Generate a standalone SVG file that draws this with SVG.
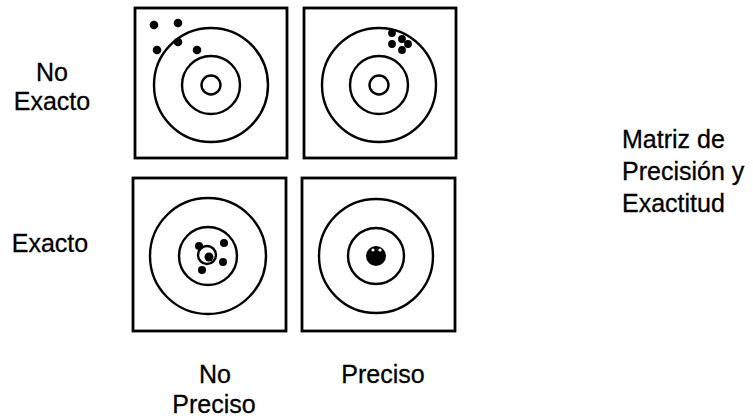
<svg xmlns="http://www.w3.org/2000/svg" width="753" height="418" viewBox="0 0 753 418">
<style>
.box{fill:none;stroke:#000;stroke-width:2.8}
.ring{fill:none;stroke:#000;stroke-width:2.4}
.dot{fill:#000}
.lbl{font-family:"Liberation Sans",Arial,sans-serif;font-size:25px;fill:#000;stroke:#000;stroke-width:0.3}
.mid{text-anchor:middle}
</style>
<rect width="753" height="418" fill="#fff"/>
<g id="target-no-exacto-no-preciso">
<rect class="box" x="135" y="8" width="152" height="150"/>
<circle class="ring" cx="211" cy="85" r="57"/>
<circle class="ring" cx="211" cy="85" r="29"/>
<circle class="ring" cx="211" cy="85" r="9.5"/>
<circle class="dot" cx="154" cy="25" r="4.3"/>
<circle class="dot" cx="178" cy="23" r="4.3"/>
<circle class="dot" cx="157" cy="50" r="4.3"/>
<circle class="dot" cx="178" cy="42" r="4.3"/>
<circle class="dot" cx="197" cy="50" r="4.3"/>
</g>
<g id="target-no-exacto-preciso">
<rect class="box" x="304" y="8" width="152" height="150"/>
<circle class="ring" cx="379" cy="85" r="57"/>
<circle class="ring" cx="379" cy="85" r="29"/>
<circle class="ring" cx="379" cy="85" r="9.5"/>
<circle class="dot" cx="392" cy="33" r="3.9"/>
<circle class="dot" cx="402" cy="39" r="3.9"/>
<circle class="dot" cx="392" cy="44" r="3.9"/>
<circle class="dot" cx="402" cy="50" r="3.9"/>
<circle class="dot" cx="408" cy="44" r="3.9"/>
</g>
<g id="target-exacto-no-preciso">
<rect class="box" x="133" y="178" width="153" height="153"/>
<circle class="ring" cx="208" cy="256" r="58"/>
<circle class="ring" cx="208" cy="256" r="29"/>
<circle class="ring" cx="207" cy="255" r="9"/>
<circle class="dot" cx="209" cy="257" r="4.5"/>
<circle class="dot" cx="199" cy="246" r="4"/>
<circle class="dot" cx="224" cy="243" r="4"/>
<circle class="dot" cx="223" cy="262" r="4"/>
<circle class="dot" cx="202" cy="270" r="4"/>
</g>
<g id="target-exacto-preciso">
<rect class="box" x="302" y="178" width="153" height="153"/>
<circle class="ring" cx="376" cy="256" r="57"/>
<circle class="ring" cx="376" cy="256" r="28"/>
<circle class="dot" cx="376" cy="256" r="10"/>
<circle cx="373" cy="250" r="1.6" fill="#fff"/>
<circle cx="380" cy="250" r="1.6" fill="#fff"/>
</g>
<g id="connectors"/>
<g id="label-no-exacto">
<text class="lbl mid" x="52" y="81">No</text>
<text class="lbl mid" x="52" y="110">Exacto</text>
</g>
<g id="label-exacto">
<text class="lbl mid" x="50" y="252">Exacto</text>
</g>
<g id="label-no-preciso">
<text class="lbl mid" x="215" y="383">No</text>
<text class="lbl mid" x="214" y="413">Preciso</text>
</g>
<g id="label-preciso">
<text class="lbl mid" x="383" y="383">Preciso</text>
</g>
<g id="title">
<text class="lbl" x="622" y="148">Matriz de</text>
<text class="lbl" x="622" y="180">Precisión y</text>
<text class="lbl" x="622" y="212">Exactitud</text>
</g>
</svg>
